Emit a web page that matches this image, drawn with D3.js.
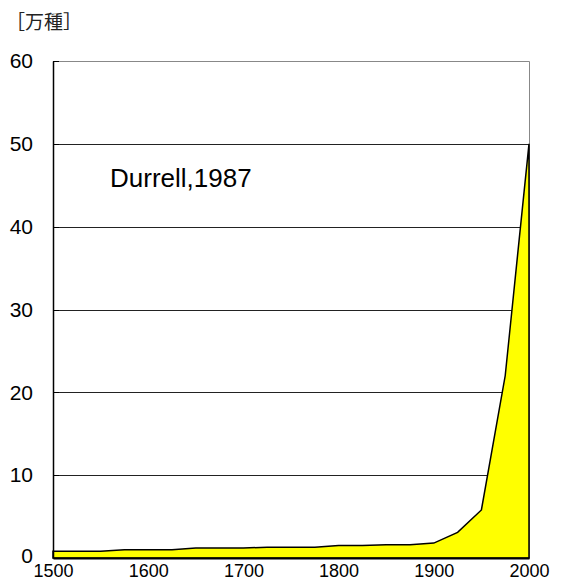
<!DOCTYPE html>
<html>
<head>
<meta charset="utf-8">
<script src="https://cdn.jsdelivr.net/npm/d3@7"></script>
<style>
  body { margin: 0; background: #fff; }
  svg { display: block; font-family: "Liberation Sans", Arial, sans-serif; }
</style>
</head>
<body>
<svg id="chart" width="563" height="583"></svg>
<script>
const years = [1500, 1525, 1550, 1575, 1600, 1625, 1650, 1675, 1700, 1725, 1750,
  1775, 1800, 1825, 1850, 1875, 1900, 1925, 1950, 1975, 2000];
const species = [0.8, 0.8, 0.8, 1.0, 1.0, 1.0, 1.2, 1.2, 1.2, 1.3, 1.3,
  1.3, 1.5, 1.5, 1.6, 1.6, 1.8, 3.1, 5.8, 22, 50];
const xTicks = [1500, 1600, 1700, 1800, 1900, 2000];
const yTicks = [0, 10, 20, 30, 40, 50, 60];

const data = years.map((y, i) => ({ year: y, value: species[i] }));

const svg = d3.select('#chart');
const margin = { top: 61, right: 34, bottom: 25, left: 53 };
const width = 563, height = 583;

const x = d3.scaleLinear().domain([1500, 2000]).range([margin.left, width - margin.right]);
const y = d3.scaleLinear().domain([0, 60]).range([height - margin.bottom, margin.top]);

// gridlines
svg.append('g')
  .selectAll('line')
  .data(yTicks.filter(d => d > 0 && d < 60))
  .enter()
  .append('line')
  .attr('x1', x(1500))
  .attr('x2', x(2000))
  .attr('y1', d => Math.round(y(d)) + 0.5)
  .attr('y2', d => Math.round(y(d)) + 0.5)
  .attr('stroke', '#222')
  .attr('stroke-width', 1);

// top and right frame
svg.append('path')
  .attr('d', `M${x(1500)},${Math.round(y(60)) + 0.5}H${Math.round(x(2000)) + 0.5}V${y(0)}`)
  .attr('fill', 'none')
  .attr('stroke', '#888')
  .attr('stroke-width', 1);

const area = d3.area()
  .x(d => x(d.year))
  .y0(y(0))
  .y1(d => y(d.value));

svg.append('path')
  .datum(data)
  .attr('d', area)
  .attr('fill', '#ffff00')
  .attr('stroke', '#000')
  .attr('stroke-width', 1.5)
  .attr('stroke-linejoin', 'miter');

// y axis
const yAxis = svg.append('g')
  .attr('transform', `translate(${x(1500)},0)`)
  .call(d3.axisLeft(y).tickValues(yTicks).tickSize(0).tickPadding(20));
yAxis.select('.domain').attr('stroke', '#000').attr('stroke-width', 1.5);
yAxis.selectAll('text')
  .attr('font-size', 21)
  .attr('fill', '#000')
  .attr('font-family', '"Liberation Sans", Arial, sans-serif');
yAxis.selectAll('.tick')
  .filter(d => d === 0)
  .select('text')
  .attr('dy', '0.2em');

// small inward ticks on y axis
svg.append('g')
  .selectAll('line')
  .data(yTicks.filter(d => d > 0))
  .enter()
  .append('line')
  .attr('x1', x(1500))
  .attr('x2', x(1500) + 6)
  .attr('y1', d => Math.round(y(d)) + 0.5)
  .attr('y2', d => Math.round(y(d)) + 0.5)
  .attr('stroke', '#000');

// x axis
const xAxis = svg.append('g')
  .attr('transform', `translate(0,${y(0)})`)
  .call(d3.axisBottom(x).tickValues(xTicks).tickFormat(d3.format('d')).tickSize(0).tickPadding(6));
xAxis.select('.domain').attr('stroke', '#000').attr('stroke-width', 2);
xAxis.selectAll('text')
  .attr('font-size', 18)
  .attr('fill', '#000')
  .attr('font-family', '"Liberation Sans", Arial, sans-serif');

// unit label
svg.append('text')
  .attr('x', 6)
  .attr('y', 29)
  .attr('font-size', 19)
  .attr('font-family', '"Noto Sans CJK JP", sans-serif')
  .attr('fill', '#222')
  .text('［万種］');

svg.append('text')
  .attr('x', 110)
  .attr('y', 187)
  .attr('font-size', 26)
  .attr('fill', '#000')
  .text('Durrell,1987');
</script>
</body>
</html>
